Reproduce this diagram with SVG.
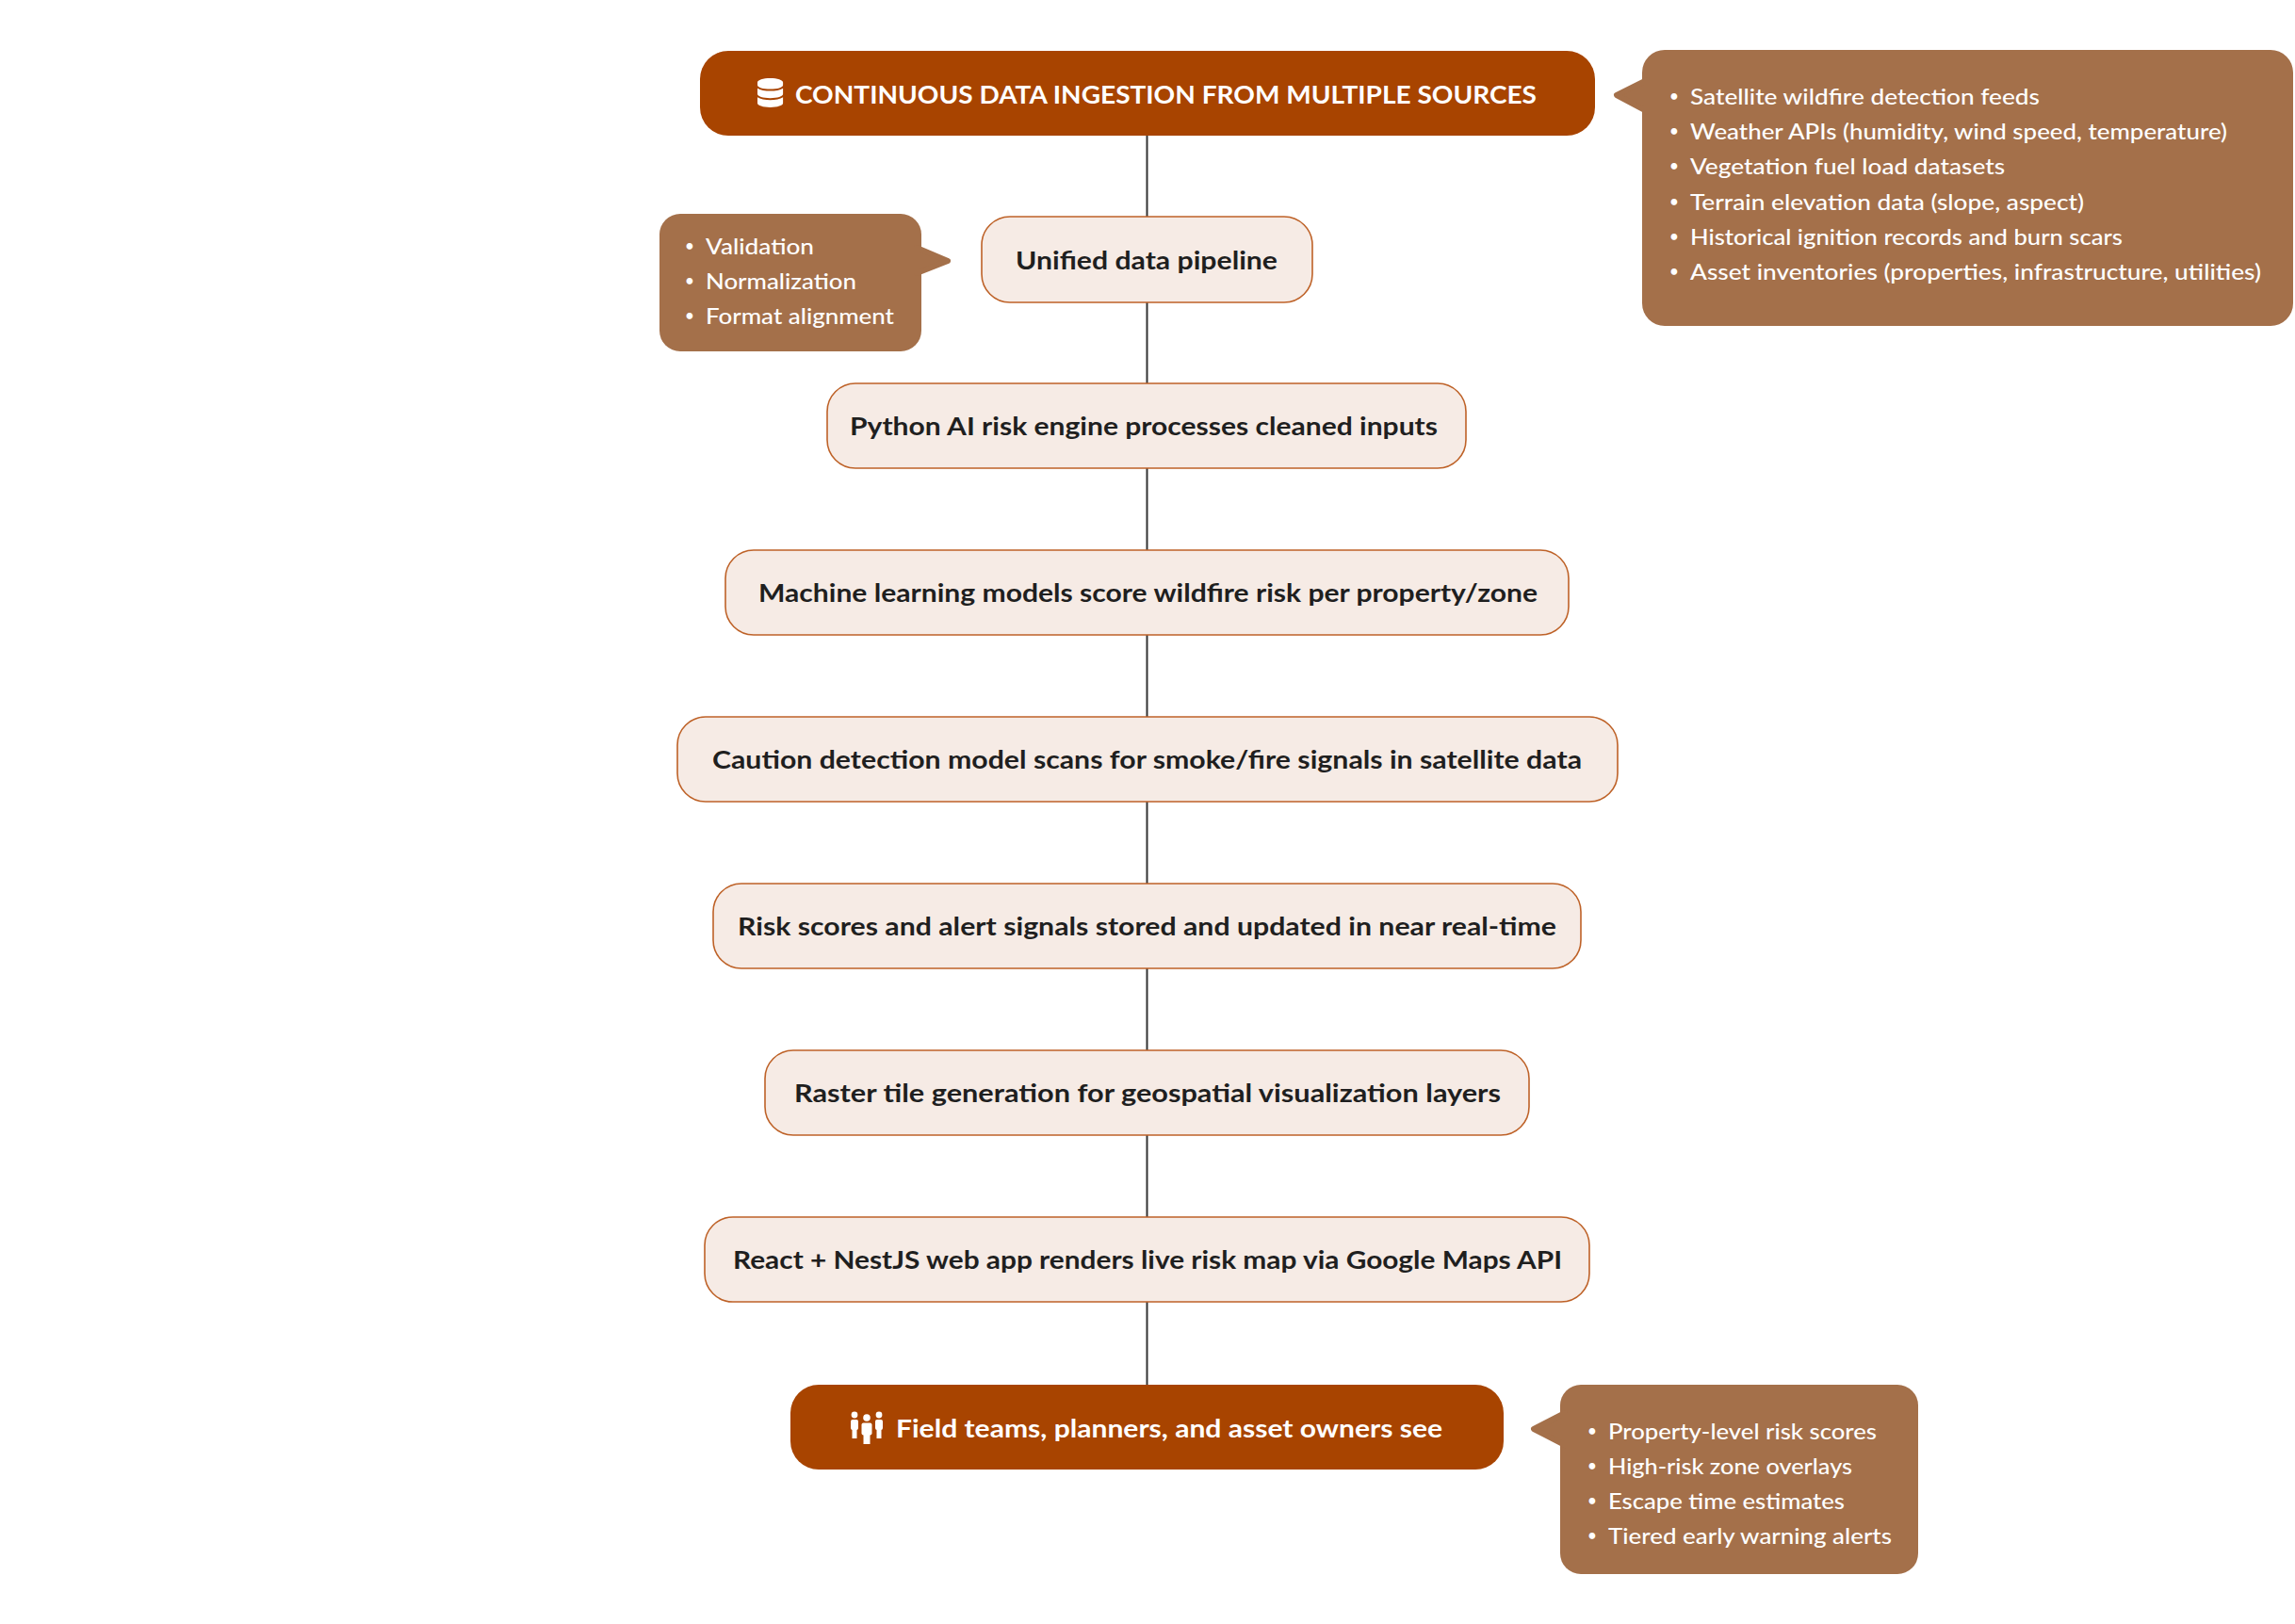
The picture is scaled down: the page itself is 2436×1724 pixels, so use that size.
<svg xmlns="http://www.w3.org/2000/svg" width="2436" height="1724" viewBox="0 0 2436 1724">
<style>
.bg{fill:#ffffff}
.step rect{fill:#F6EBE5;stroke:#BE6228;stroke-width:1.6}
.step text{font-family:Lato,"Noto Sans",sans-serif;font-weight:700;font-size:26px;fill:#1f1f1f}
.main .pill{fill:#A84400}
.main text{font-family:Lato,"Noto Sans",sans-serif;font-weight:700;font-size:26px;fill:#ffffff}
.note .box{fill:#A4704A}
.note .tip{fill:#A4704A;stroke:#A4704A;stroke-width:6;stroke-linejoin:round}
.note text{font-family:Lato,"Noto Sans",sans-serif;font-weight:500;font-size:23px;fill:#ffffff}
.note text.b{font-size:17px}
.icon, .icon *{fill:#ffffff}
#connectors line{stroke:#333333;stroke-width:2}
</style>
<rect class="bg" x="0" y="0" width="2436" height="1724"/>

<g id="connectors">
<line x1="1217.5" y1="144" x2="1217.5" y2="230"/>
<line x1="1217.5" y1="321" x2="1217.5" y2="407"/>
<line x1="1217.5" y1="497" x2="1217.5" y2="584"/>
<line x1="1217.5" y1="674" x2="1217.5" y2="761"/>
<line x1="1217.5" y1="851" x2="1217.5" y2="938"/>
<line x1="1217.5" y1="1028" x2="1217.5" y2="1115"/>
<line x1="1217.5" y1="1205" x2="1217.5" y2="1292"/>
<line x1="1217.5" y1="1382" x2="1217.5" y2="1470"/>
</g>

<g id="node-ingestion" class="main">
<rect class="pill" x="743" y="54" width="950" height="90" rx="30" ry="30"/>
<path class="icon" transform="translate(804,83) scale(0.0605)" d="M448 73.143v45.714C448 159.143 347.667 192 224 192S0 159.143 0 118.857V73.143C0 32.857 100.333 0 224 0s224 32.857 224 73.143zM448 176v102.857C448 319.143 347.667 352 224 352S0 319.143 0 278.857V176c48.125 33.143 136.208 48.572 224 48.572S399.874 209.143 448 176zm0 160v102.857C448 479.143 347.667 512 224 512S0 479.143 0 438.857V336c48.125 33.143 136.208 48.572 224 48.572S399.874 369.143 448 336z"/>
<text x="844" y="110" textLength="787" lengthAdjust="spacingAndGlyphs">CONTINUOUS DATA INGESTION FROM MULTIPLE SOURCES</text>
</g>

<g id="note-sources" class="note">
<rect class="box" x="1743" y="53" width="691" height="293" rx="24" ry="24"/>
<polygon class="tip" points="1748,85 1716,101 1748,118"/>
<text class="b" x="1772" y="108">•</text><text x="1794" y="111" textLength="371" lengthAdjust="spacingAndGlyphs">Satellite wildfire detection feeds</text>
<text class="b" x="1772" y="145">•</text><text x="1794" y="148" textLength="570" lengthAdjust="spacingAndGlyphs">Weather APIs (humidity, wind speed, temperature)</text>
<text class="b" x="1772" y="182">•</text><text x="1794" y="185" textLength="334" lengthAdjust="spacingAndGlyphs">Vegetation fuel load datasets</text>
<text class="b" x="1772" y="220">•</text><text x="1794" y="223" textLength="418" lengthAdjust="spacingAndGlyphs">Terrain elevation data (slope, aspect)</text>
<text class="b" x="1772" y="257">•</text><text x="1794" y="260" textLength="459" lengthAdjust="spacingAndGlyphs">Historical ignition records and burn scars</text>
<text class="b" x="1772" y="294">•</text><text x="1794" y="297" textLength="606" lengthAdjust="spacingAndGlyphs">Asset inventories (properties, infrastructure, utilities)</text>
</g>

<g id="node-pipeline" class="step">
<rect x="1042" y="230" width="351" height="91" rx="30" ry="30"/>
<text x="1078" y="286" textLength="278" lengthAdjust="spacingAndGlyphs">Unified data pipeline</text>
</g>

<g id="note-pipeline" class="note">
<rect class="box" x="700" y="227" width="278" height="146" rx="22" ry="22"/>
<polygon class="tip" points="973,263 1006,277 973,290"/>
<text class="b" x="727" y="267">•</text><text x="749" y="270" textLength="115" lengthAdjust="spacingAndGlyphs">Validation</text>
<text class="b" x="727" y="304">•</text><text x="749" y="307" textLength="160" lengthAdjust="spacingAndGlyphs">Normalization</text>
<text class="b" x="727" y="341">•</text><text x="749" y="344" textLength="200" lengthAdjust="spacingAndGlyphs">Format alignment</text>
</g>

<g id="node-engine" class="step">
<rect x="878" y="407" width="678" height="90" rx="30" ry="30"/>
<text x="902" y="462" textLength="624" lengthAdjust="spacingAndGlyphs">Python AI risk engine processes cleaned inputs</text>
</g>

<g id="node-ml" class="step">
<rect x="770" y="584" width="895" height="90" rx="30" ry="30"/>
<text x="805" y="639" textLength="827" lengthAdjust="spacingAndGlyphs">Machine learning models score wildfire risk per property/zone</text>
</g>

<g id="node-caution" class="step">
<rect x="719" y="761" width="998" height="90" rx="30" ry="30"/>
<text x="756" y="816" textLength="923" lengthAdjust="spacingAndGlyphs">Caution detection model scans for smoke/fire signals in satellite data</text>
</g>

<g id="node-store" class="step">
<rect x="757" y="938" width="921" height="90" rx="30" ry="30"/>
<text x="783" y="993" textLength="869" lengthAdjust="spacingAndGlyphs">Risk scores and alert signals stored and updated in near real-time</text>
</g>

<g id="node-raster" class="step">
<rect x="812" y="1115" width="811" height="90" rx="30" ry="30"/>
<text x="843" y="1170" textLength="750" lengthAdjust="spacingAndGlyphs">Raster tile generation for geospatial visualization layers</text>
</g>

<g id="node-webapp" class="step">
<rect x="748" y="1292" width="939" height="90" rx="30" ry="30"/>
<text x="778" y="1347" textLength="880" lengthAdjust="spacingAndGlyphs">React + NestJS web app renders live risk map via Google Maps API</text>
</g>

<g id="node-users" class="main">
<rect class="pill" x="839" y="1470" width="757" height="90" rx="30" ry="30"/>
<g class="icon">
<circle cx="907" cy="1502" r="3.4"/>
<rect x="903" y="1507" width="8" height="11" rx="2"/>
<rect x="904.5" y="1516" width="5" height="11"/>
<circle cx="933" cy="1502" r="3.4"/>
<rect x="929" y="1507" width="8" height="11" rx="2"/>
<rect x="930.5" y="1516" width="5" height="11"/>
<circle cx="920" cy="1505" r="3.8"/>
<rect x="914.5" y="1510.5" width="11" height="13" rx="2"/>
<rect x="916.5" y="1522" width="7" height="11"/>
</g>
<text x="951" y="1526" textLength="580" lengthAdjust="spacingAndGlyphs">Field teams, planners, and asset owners see</text>
</g>

<g id="note-users" class="note">
<rect class="box" x="1656" y="1470" width="380" height="201" rx="22" ry="22"/>
<polygon class="tip" points="1661,1500 1628,1517 1661,1534"/>
<text class="b" x="1685" y="1525">•</text><text x="1707" y="1528" textLength="285" lengthAdjust="spacingAndGlyphs">Property-level risk scores</text>
<text class="b" x="1685" y="1562">•</text><text x="1707" y="1565" textLength="259" lengthAdjust="spacingAndGlyphs">High-risk zone overlays</text>
<text class="b" x="1685" y="1599">•</text><text x="1707" y="1602" textLength="251" lengthAdjust="spacingAndGlyphs">Escape time estimates</text>
<text class="b" x="1685" y="1636">•</text><text x="1707" y="1639" textLength="301" lengthAdjust="spacingAndGlyphs">Tiered early warning alerts</text>
</g>
</svg>
